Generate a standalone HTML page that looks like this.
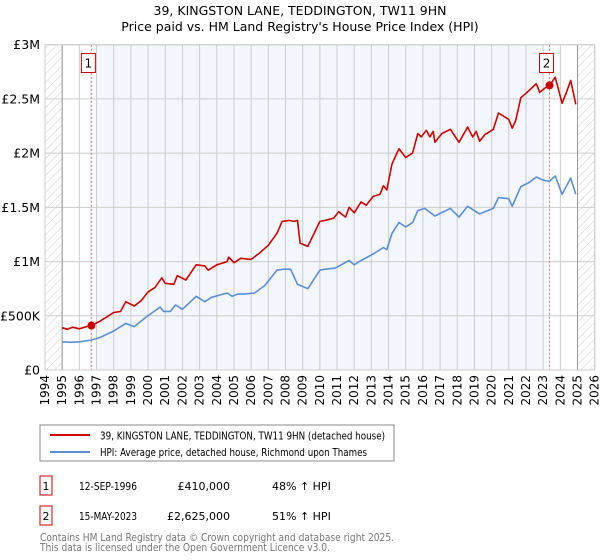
<!DOCTYPE html>
<html><head><meta charset="utf-8"><style>
body{margin:0;background:#fff;font-family:"Liberation Sans","DejaVu Sans",sans-serif;}
#wrap{position:relative;width:600px;height:560px;overflow:hidden}
</style></head><body><div id="wrap">
<svg id="chart" width="600" height="560" xmlns="http://www.w3.org/2000/svg" font-family="DejaVu Sans, Liberation Sans, sans-serif">
<defs><pattern id="hatch" width="6" height="6" patternUnits="userSpaceOnUse" patternTransform="rotate(45)"><line x1="0" y1="0" x2="0" y2="6" stroke="#ccc" stroke-width="1"/></pattern></defs>
<text x="300" y="15" text-anchor="middle" font-size="12.5">39, KINGSTON LANE, TEDDINGTON, TW11 9HN</text>
<text x="300" y="31" text-anchor="middle" font-size="12.5">Price paid vs. HM Land Registry's House Price Index (HPI)</text>
<g id="plot"></g>
<rect x="40" y="425" width="354" height="36" fill="#fff" stroke="#888"/>
<line x1="50" y1="435" x2="90" y2="435" stroke="#cc0000" stroke-width="2"/>
<text x="100" y="439.5" font-size="11" textLength="285" lengthAdjust="spacingAndGlyphs">39, KINGSTON LANE, TEDDINGTON, TW11 9HN (detached house)</text>
<line x1="50" y1="452" x2="90" y2="452" stroke="#5b8ed6" stroke-width="2"/>
<text x="100" y="456" font-size="11" textLength="267" lengthAdjust="spacingAndGlyphs">HPI: Average price, detached house, Richmond upon Thames</text>
<rect x="40" y="476" width="12" height="19" fill="#fff" stroke="#cc0000"/>
<text x="46" y="490" text-anchor="middle" font-size="11">1</text>
<text x="79" y="490" font-size="11" textLength="58" lengthAdjust="spacingAndGlyphs">12-SEP-1996</text>
<text x="230" y="490" text-anchor="end" font-size="11">£410,000</text>
<text x="272" y="490" font-size="11">48% ↑ HPI</text>
<rect x="40" y="506" width="12" height="19" fill="#fff" stroke="#cc0000"/>
<text x="46" y="520" text-anchor="middle" font-size="11">2</text>
<text x="79" y="520" font-size="11" textLength="58" lengthAdjust="spacingAndGlyphs">15-MAY-2023</text>
<text x="230" y="520" text-anchor="end" font-size="11">£2,625,000</text>
<text x="272" y="520" font-size="11">51% ↑ HPI</text>
<text x="40" y="541" font-size="11" fill="#777" textLength="354" lengthAdjust="spacingAndGlyphs">Contains HM Land Registry data © Crown copyright and database right 2025.</text>
<text x="40" y="551" font-size="11" fill="#777" textLength="290" lengthAdjust="spacingAndGlyphs">This data is licensed under the Open Government Licence v3.0.</text>
</svg></div>
<script>
const yearTicks=[1994,1995,1996,1997,1998,1999,2000,2001,2002,2003,2004,2005,2006,2007,2008,2009,2010,2011,2012,2013,2014,2015,2016,2017,2018,2019,2020,2021,2022,2023,2024,2025,2026];
const valueTicks=[0,500000,1000000,1500000,2000000,2500000,3000000];
const valueTickLabels=["£0","£500K","£1M","£1.5M","£2M","£2.5M","£3M"];
const redYears=[1995,1995.3,1995.6,1996,1996.3,1996.7,1997.2,1997.6,1998,1998.4,1998.7,1999.2,1999.6,2000,2000.4,2000.8,2001,2001.5,2001.7,2002.2,2002.8,2003.3,2003.5,2004,2004.6,2004.7,2005,2005.4,2006,2006.5,2007,2007.5,2007.8,2008.2,2008.5,2008.7,2008.85,2009.3,2010,2010.3,2010.8,2011.1,2011.5,2011.7,2012,2012.4,2012.7,2013.1,2013.5,2013.7,2013.9,2014.2,2014.6,2015,2015.4,2015.7,2015.9,2016.2,2016.4,2016.6,2016.7,2017.1,2017.6,2018.1,2018.6,2018.9,2019.1,2019.3,2019.6,2020.1,2020.4,2021,2021.2,2021.4,2021.7,2022.2,2022.6,2022.8,2023.1,2023.37,2023.7,2024.1,2024.35,2024.6,2024.9];
const redValues=[390000,375000,395000,380000,395000,410000,450000,490000,530000,540000,630000,590000,640000,720000,760000,850000,800000,790000,870000,830000,970000,960000,920000,970000,1000000,1040000,990000,1030000,1020000,1080000,1150000,1260000,1370000,1380000,1370000,1380000,1170000,1140000,1370000,1380000,1400000,1460000,1410000,1500000,1450000,1550000,1520000,1600000,1620000,1700000,1660000,1900000,2040000,1960000,2000000,2180000,2150000,2210000,2150000,2200000,2100000,2180000,2220000,2100000,2240000,2150000,2200000,2110000,2170000,2220000,2370000,2310000,2230000,2300000,2510000,2580000,2640000,2560000,2600000,2625000,2700000,2460000,2560000,2670000,2450000];
const hpiYears=[1995,1995.5,1996,1996.7,1997.2,1998,1998.7,1999.2,1999.9,2000.7,2000.9,2001.3,2001.6,2002,2002.8,2003.3,2003.7,2004.6,2004.9,2005.2,2005.6,2006.2,2006.8,2007.5,2007.9,2008.3,2008.7,2008.85,2009.3,2010,2010.3,2010.9,2011.7,2012,2012.4,2013.1,2013.7,2013.9,2014.2,2014.6,2015,2015.4,2015.7,2016.1,2016.7,2017.6,2018.1,2018.6,2019.3,2020.1,2020.4,2021,2021.2,2021.7,2022.2,2022.6,2023,2023.37,2023.7,2024.1,2024.6,2024.9];
const hpiValues=[260000,255000,260000,277000,300000,360000,430000,400000,490000,580000,540000,540000,600000,560000,680000,630000,670000,710000,680000,700000,700000,710000,780000,920000,930000,930000,790000,780000,750000,920000,930000,940000,1010000,970000,1010000,1070000,1130000,1110000,1260000,1360000,1320000,1360000,1470000,1490000,1420000,1490000,1410000,1510000,1440000,1490000,1590000,1580000,1510000,1690000,1730000,1780000,1750000,1740000,1790000,1620000,1770000,1620000];
const sales=[{y:1996.7,v:410000,label:"1"},{y:2023.37,v:2625000,label:"2"}];
const X0=45,X1=594.7,Y0=370,Y1=44.7;
const xs=y=>X0+(y-1994)/32*(X1-X0);
const ys=v=>Y0-v/3000000*(Y0-Y1);
const NS="http://www.w3.org/2000/svg";
const g=document.getElementById('plot');
function mk(t,a){const e=document.createElementNS(NS,t);for(const k in a)e.setAttribute(k,a[k]);g.appendChild(e);return e;}
let e;
e=mk('rect',{x:X0,y:Y1,width:X1-X0,height:Y0-Y1,fill:'#fff'});


e=mk('rect',{x:xs(1997),y:Y1,width:xs(2023)-xs(1997),height:Y0-Y1,fill:'#f3f6fd'});


e=mk('rect',{x:X0,y:Y1,width:xs(1995)-X0,height:Y0-Y1,fill:'url(#hatch)'});


e=mk('rect',{x:xs(2025),y:Y1,width:X1-xs(2025),height:Y0-Y1,fill:'url(#hatch)'});


yearTicks.forEach(y=>{
 e=mk('line',{x1:xs(y),x2:xs(y),y1:Y1,y2:Y0,stroke:'#ccc','stroke-width':1});
 
 
 const tx=xs(y)+4,ty=Y0+5;
 e=mk('text',{x:tx,y:ty,'font-size':12,'text-anchor':'end',transform:`rotate(-90 ${tx} ${ty})`});
 e.textContent=y;
 
 
});
valueTicks.forEach((v,i)=>{
 e=mk('line',{x1:X0,x2:X1,y1:ys(v),y2:ys(v),stroke:'#ccc','stroke-width':1});
 
 
 e=mk('text',{x:40,y:ys(v)+4.5,'font-size':12.5,'text-anchor':'end'});
 e.textContent=valueTickLabels[i];
 
 
});
[1995,2025].forEach(y=>{e=mk('line',{x1:xs(y),x2:xs(y),y1:Y1,y2:Y0,stroke:'#999','stroke-width':1});
 
 });
sales.forEach(s=>{
 e=mk('line',{x1:xs(s.y),x2:xs(s.y),y1:Y1,y2:Y0,stroke:'#e66','stroke-width':1,'stroke-dasharray':'2,2'});
 
 
});
function path(xa,va,col,name){
 const d=xa.map((y,i)=>(i?'L':'M')+xs(y).toFixed(1)+','+ys(va[i]).toFixed(1)).join('');
 e=mk('path',{d:d,fill:'none',stroke:col,'stroke-width':1.6,'stroke-linejoin':'round'});
 
 
}
path(hpiYears,hpiValues,'#5b8ed6','hpi-line');
path(redYears,redValues,'#cc0000','property-price-line');
sales.forEach(s=>{
 e=mk('circle',{cx:xs(s.y),cy:ys(s.v),r:4,fill:'#cc0000'});
 
 
 e=mk('rect',{x:xs(s.y)-10,y:53.5,width:14,height:19,fill:'#fff',stroke:'#cc0000'});
 
 
 e=mk('text',{x:xs(s.y)-3,y:67.5,'font-size':12,'text-anchor':'middle'});
 e.textContent=s.label;
 
 
});
e=mk('rect',{x:X0,y:Y1,width:X1-X0,height:Y0-Y1,fill:'none',stroke:'#ccc'});


</script></body></html>
